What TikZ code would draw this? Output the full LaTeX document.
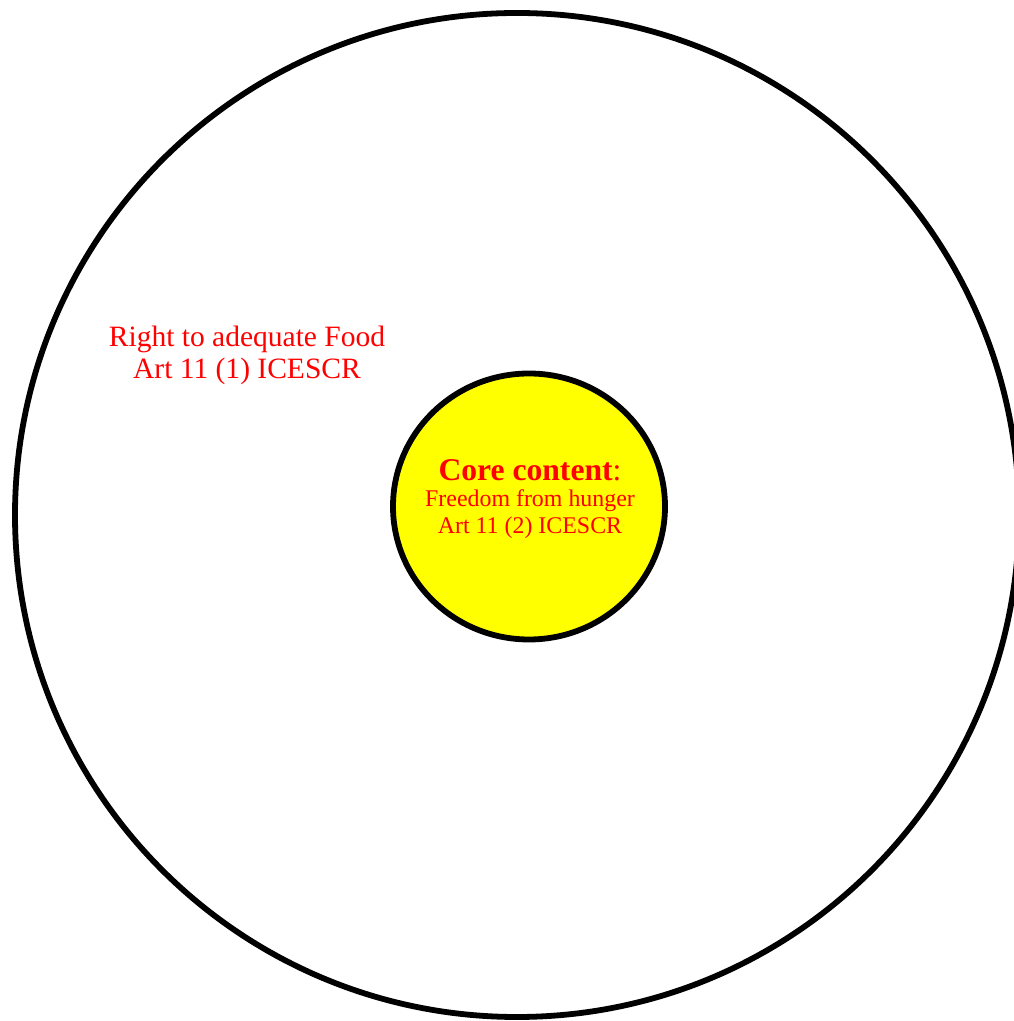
\documentclass[tikz,border=0pt]{standalone}
\usepackage{fontspec}
\setmainfont{Liberation Serif}
\definecolor{corered}{RGB}{255,0,0}
\definecolor{coreyellow}{RGB}{255,255,0}
\begin{document}
\begin{tikzpicture}[x=0.02cm, y=0.02cm, every node/.style={text=corered, align=center}]
    % --- РАМКА РИСУНКА ---
    \useasboundingbox (0,0) rectangle (1014,1021);

    % --- ОПОРНЫЕ ТОЧКИ ---
    \coordinate (O) at (517,506);   % Центр большого круга
    \coordinate (K) at (529,514.5); % Центр ядра

    % --- БОЛЬШОЙ КРУГ ---
    \draw[line width=3.3pt] (O) circle (502);

    % --- ЯДРО ---
    \draw[line width=3.3pt, fill=coreyellow] (K) ellipse (136 and 133);

    % --- ПОДПИСИ ---
    \node[font=\fontsize{16.8}{18.3}\selectfont] (food) at (247,666)
        {Right to adequate Food\\Art 11 (1) ICESCR};
    \node[font=\fontsize{13.6}{15}\selectfont] (core) at (530,522)
        {{\fontsize{18}{17}\selectfont\textbf{Core content}:}\\Freedom from hunger\\Art 11 (2) ICESCR};
\end{tikzpicture}
\end{document}
